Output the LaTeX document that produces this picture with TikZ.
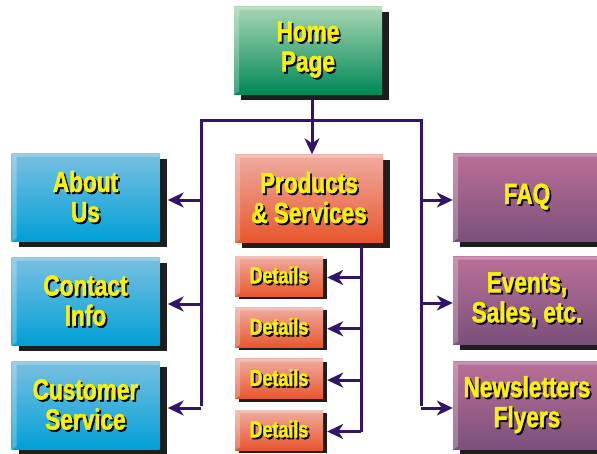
\documentclass[tikz,border=0pt]{standalone}
\usepackage{fontspec}
\newfontfamily\boxfont[FakeStretch=0.78,FakeBold=1.6]{Liberation Sans Bold}
\usetikzlibrary{arrows.meta,shadows,calc}

\definecolor{linkcol}{RGB}{50,20,110}
\definecolor{boxshadow}{RGB}{30,30,30}
\definecolor{txtyellow}{RGB}{250,242,0}
\definecolor{homeTop}{RGB}{168,214,178}
\definecolor{homeBot}{RGB}{0,136,88}
\definecolor{infoTop}{RGB}{122,192,226}
\definecolor{infoBot}{RGB}{0,160,214}
\definecolor{prodTop}{RGB}{240,172,160}
\definecolor{prodBot}{RGB}{232,86,46}
\definecolor{newsTop}{RGB}{186,112,152}
\definecolor{newsBot}{RGB}{122,80,122}

% yellow text with a black drop shadow
\newcommand\shtext[1]{\rlap{\kern1.8pt\raisebox{-1.8pt}{\color{black}#1}}{\color{txtyellow}#1}}

\tikzset{
  boxbase/.style={rectangle, inner sep=0pt, align=center,
    path picture={\fill[white,opacity=.25]
      (path picture bounding box.south west) -- (path picture bounding box.north west)
      -- (path picture bounding box.north east) -- ([yshift=-3pt]path picture bounding box.north east)
      -- ([shift={(5pt,-3pt)}]path picture bounding box.north west)
      -- ([shift={(5pt,3pt)}]path picture bounding box.south west) -- cycle;}},
  pagebox/.style={boxbase, minimum width=148pt, minimum height=88pt,
    font=\boxfont\fontsize{29}{30}\selectfont,
    drop shadow={shadow xshift=7pt, shadow yshift=-5pt, opacity=1, fill=boxshadow}},
  detailbox/.style={boxbase, minimum width=88pt, minimum height=40pt,
    font=\boxfont\fontsize{23}{24}\selectfont,
    drop shadow={shadow xshift=4pt, shadow yshift=-3pt, opacity=1, fill=boxshadow}},
  homecol/.style={top color=homeTop, bottom color=homeBot},
  infocol/.style={top color=infoTop, bottom color=infoBot},
  prodcol/.style={top color=prodTop, bottom color=prodBot},
  newscol/.style={top color=newsTop, bottom color=newsBot},
  link/.style={draw=linkcol, line width=3pt, line join=miter},
  arrow/.style={link, -{Stealth[length=16pt,width=15pt,inset=5pt]}}
}

\begin{document}
\begin{tikzpicture}[x=1pt,y=1pt]
  \useasboundingbox (0,0) rectangle (597,-453);
  \clip (0,0) rectangle (597,-453);

  % boxes
  \node[pagebox,homecol] (home) at (308,-50.5) {\shtext{Home}\\\shtext{Page}};

  \node[pagebox,infocol] (about) at (85.5,-197.5) {\shtext{About}\\\shtext{Us}};
  \node[pagebox,infocol] (contact) at (85.5,-301.5) {\shtext{Contact}\\\shtext{Info}};
  \node[pagebox,infocol] (customer) at (85.5,-405.5) {\shtext{Customer}\\\shtext{Service}};

  \node[pagebox,prodcol] (products) at (309,-198.5) {\shtext{Products}\\\shtext{\& Services}};
  \node[detailbox,prodcol] (det1) at (279,-276) {\shtext{Details}};
  \node[detailbox,prodcol] (det2) at (279,-327.3) {\shtext{Details}};
  \node[detailbox,prodcol] (det3) at (279,-378.6) {\shtext{Details}};
  \node[detailbox,prodcol] (det4) at (279,-430) {\shtext{Details}};

  \node[pagebox,newscol] (faq) at (527,-197.5) {\shtext{FAQ}};
  \node[pagebox,newscol] (events) at (527,-300.5) {\shtext{Events,}\\\shtext{Sales, etc.}};
  \node[pagebox,newscol] (news) at (527,-405.5) {\shtext{Newsletters}\\\shtext{Flyers}};

  % bus points
  \coordinate (hub) at (312,-120);
  \coordinate (lbus) at (201,-120);
  \coordinate (rbus) at (421,-120);
  \coordinate (lend) at (201,-406);
  \coordinate (rend) at (421,-406);
  \coordinate (dtop) at (361,-246);
  \coordinate (dend) at (361,-432);

  % connectors
  \draw[link] ([yshift=-5pt]home.south -| hub) -- (hub);
  \draw[arrow] (hub) -- (products.north -| hub);
  \draw[link] (lend) -- (lbus) -- (rbus) -- (rend);
  \draw[link] (dtop) -- (dend);

  \foreach \b in {about,contact,customer}
    \draw[arrow] ($(lbus |- \b.east)+(0,-2.5)$) -- ($(\b.east)+(8,-2.5)$);
  \foreach \b in {faq,events,news}
    \draw[arrow] ($(rbus |- \b.west)+(0,-2.5)$) -- ($(\b.west)+(0,-2.5)$);
  \foreach \b in {det1,det2,det3,det4}
    \draw[arrow] ($(dtop |- \b.east)+(0,-1.5)$) -- ($(\b.east)+(4,-1.5)$);
\end{tikzpicture}
\end{document}
